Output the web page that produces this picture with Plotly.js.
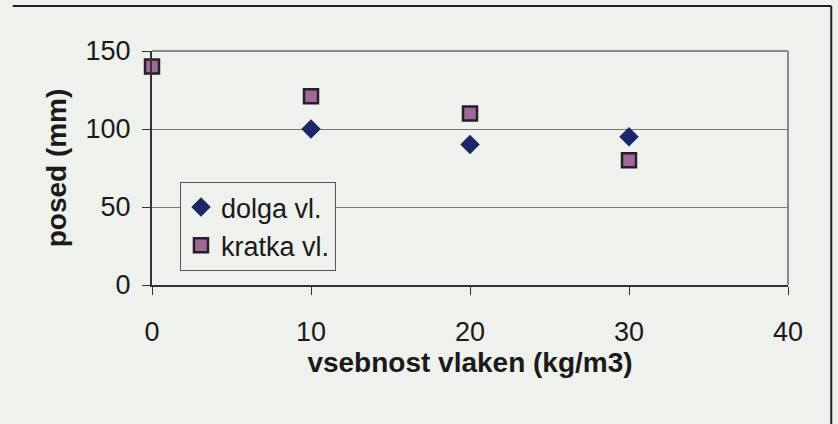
<!DOCTYPE html>
<html>
<head>
<meta charset="utf-8">
<script src="https://cdn.plot.ly/plotly-3.0.1.min.js"></script>
<style>html,body{margin:0;padding:0;background:#eef1ec;}</style>
</head>
<body>
<div id="chart" style="width:838px;height:424px;"></div>
<script>
const xValues = [0, 10, 20, 30];
const dolgaX = [10, 20, 30];
const dolgaY = [100, 90, 95];
const kratkaX = [0, 10, 20, 30];
const kratkaY = [140, 121, 110, 80];
const seriesNames = ["dolga vl.", "kratka vl."];
const xTicks = [0, 10, 20, 30, 40];
const yTicks = [0, 50, 100, 150];

const bg = "#eef1ec";
const traces = [
  {x: dolgaX, y: dolgaY, name: seriesNames[0], type: "scatter", mode: "markers",
   marker: {symbol: "diamond", size: 15, color: "#1c2768", line: {width: 0}}, cliponaxis: false},
  {x: kratkaX, y: kratkaY, name: seriesNames[1], type: "scatter", mode: "markers",
   marker: {symbol: "square", size: 14, color: "#9e6b98", line: {width: 2.5, color: "#2a1c2a"}}, cliponaxis: false}
];
const layout = {
  width: 838, height: 424,
  paper_bgcolor: bg, plot_bgcolor: bg,
  margin: {l: 152, r: 50, t: 51, b: 139},
  font: {family: "Liberation Sans, Arial, sans-serif", color: "#1a1a1a", size: 27},
  showlegend: true,
  legend: {x: 0.044, y: 0.44, xanchor: "left", yanchor: "top", bgcolor: bg,
           bordercolor: "#555", borderwidth: 1, font: {size: 27}, itemwidth: 30,
           tracegroupgap: 0},
  xaxis: {range: [0, 40], tickvals: xTicks, ticks: "outside", ticklen: 8, tickcolor: "#333",
          showline: true, linecolor: "#333", linewidth: 2, showgrid: false, zeroline: false,
          ticklabelstandoff: 14, tickfont: {size: 27},
          title: {text: "vsebnost vlaken (kg/m3)", font: {size: 28, weight: "bold"}, standoff: 6}},
  yaxis: {range: [0, 150], tickvals: yTicks, ticks: "outside", ticklen: 8, tickcolor: "#333",
          showline: true, linecolor: "#333", linewidth: 2, showgrid: true, gridcolor: "#777", gridwidth: 1,
          zeroline: false, ticklabelstandoff: 6, tickfont: {size: 27},
          title: {text: "posed (mm)", font: {size: 28, weight: "bold"}, standoff: 11}},
  shapes: [
    {type: "line", xref: "paper", yref: "paper", x0: 0, x1: 1, y0: 1, y1: 1, line: {color: "#888", width: 2}},
    {type: "line", xref: "paper", yref: "paper", x0: 1, x1: 1, y0: 0, y1: 1, line: {color: "#888", width: 2}},
    {type: "line", xref: "paper", yref: "paper", x0: -0.219, x1: 1.068, y0: 1.192, y1: 1.192, line: {color: "#222", width: 2}},
    {type: "line", xref: "paper", yref: "paper", x0: 1.068, x1: 1.068, y0: 1.192, y1: -0.6, line: {color: "#222", width: 2}}
  ]
};
Plotly.newPlot("chart", traces, layout, {displayModeBar: false, staticPlot: true});
</script>
</body>
</html>
